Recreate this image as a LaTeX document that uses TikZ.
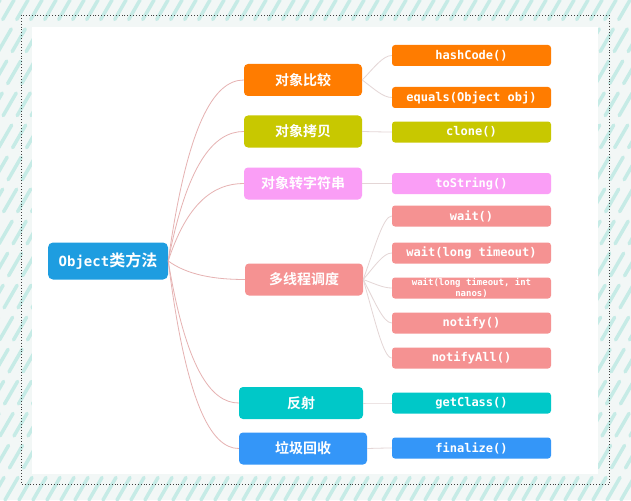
\documentclass[tikz,border=0pt]{standalone}
\usepackage{fontspec}
\setmonofont{DejaVu Sans Mono}
\newfontfamily\cjk{Noto Sans CJK SC}[BoldFont={Noto Sans CJK SC Bold}]
\usetikzlibrary{calc}

\definecolor{rootblue}{RGB}{30,157,224}
\definecolor{cmporange}{RGB}{255,124,0}
\definecolor{copyolive}{RGB}{200,200,0}
\definecolor{strpink}{RGB}{250,158,246}
\definecolor{threadred}{RGB}{245,146,146}
\definecolor{reflteal}{RGB}{0,200,200}
\definecolor{gcblue}{RGB}{52,150,248}
\definecolor{rootline}{RGB}{230,178,178}
\definecolor{leafline}{RGB}{228,214,214}
\definecolor{paper}{RGB}{242,247,246}
\definecolor{brush}{RGB}{198,235,230}

\begin{document}
\begin{tikzpicture}[x=1pt, y=-1pt,
    rootbox/.style={fill=rootblue, text=white, rounded corners=5pt, inner sep=0pt,
      minimum width=120pt, minimum height=37pt},
    topic/.style={text=white, rounded corners=4pt, inner sep=0pt,
      minimum width=118pt, minimum height=32pt,
      font=\cjk\bfseries\fontsize{14}{16}\selectfont},
    leaf/.style={text=white, rounded corners=3pt, inner sep=0pt,
      minimum width=159pt, minimum height=21pt,
      font=\ttfamily\bfseries\fontsize{12}{14}\selectfont},
    rootlink/.style={rootline, line width=0.8pt},
    leaflink/.style={leafline, line width=0.8pt}]
    \useasboundingbox (0,0) rectangle (631,500);

    % Paper with brush stripes
    \begin{scope}
      \clip (0,0) rectangle (631,500);
      \fill[paper] (0,0) rectangle (631,500);
      \foreach \i in {0,14,...,930}
        \draw[brush, line width=3.5pt, line cap=round, dash pattern=on 26pt off 11pt]
          (\i-289,500) -- (\i,0);
    \end{scope}

    % Dotted frame and white panel
    \draw[black!75, dotted, line width=0.9pt] (21,15) rectangle (609,484);
    \fill[white] (32,27) rectangle (598,474);

    % Root
    \node[rootbox] (root) at (108,261)
      {{\ttfamily\bfseries\fontsize{14}{16}\selectfont Object}{\cjk\bfseries\fontsize{16}{18}\selectfont 类方法}};

    % First level
    \node[topic, fill=cmporange] (cmp) at (303,80) {对象比较};
    \node[topic, fill=copyolive] (copy) at (303,131.5) {对象拷贝};
    \node[topic, fill=strpink] (str) at (303,183.5) {对象转字符串};
    \node[topic, fill=threadred] (thread) at (304,279.5) {多线程调度};
    \node[topic, fill=reflteal, minimum width=124pt] (refl) at (301,403) {反射};
    \node[topic, fill=gcblue, minimum width=128pt] (gc) at (303,448.5) {垃圾回收};

    % Second level
    \node[leaf, fill=cmporange] (hash) at (471.5,55.5) {hashCode()};
    \node[leaf, fill=cmporange] (eq) at (471.5,97.5) {equals(Object obj)};
    \node[leaf, fill=copyolive] (clone) at (471.5,132) {clone()};
    \node[leaf, fill=strpink] (tostr) at (471.5,183.5) {toString()};
    \node[leaf, fill=threadred] (wone) at (471.5,216) {wait()};
    \node[leaf, fill=threadred] (wtwo) at (471.5,253) {wait(long timeout)};
    \node[leaf, fill=threadred, align=center,
      font=\ttfamily\bfseries\fontsize{9}{11}\selectfont] (wthree) at (471.5,288)
      {wait(long timeout, int\\nanos)};
    \node[leaf, fill=threadred] (ntf) at (471.5,323) {notify()};
    \node[leaf, fill=threadred] (ntfall) at (471.5,358) {notifyAll()};
    \node[leaf, fill=reflteal] (getcls) at (471.5,403) {getClass()};
    \node[leaf, fill=gcblue] (fin) at (471.5,448) {finalize()};

    % Root links
    \foreach \k in {cmp,copy,str,thread,refl,gc}
      \draw[rootlink] let \p1=(root.east), \p2=(\k.west) in
        (\p1) .. controls (0.75*\x1+0.25*\x2, 0.25*\y1+0.75*\y2)
        and (0.4*\x1+0.6*\x2, \y2) .. (\p2);

    % Leaf links
    \foreach \a/\b in {cmp/hash,cmp/eq,copy/clone,str/tostr,thread/wone,thread/wtwo,
        thread/wthree,thread/ntf,thread/ntfall,refl/getcls,gc/fin}
      \draw[leaflink] let \p1=(\a.east), \p2=(\b.west) in
        (\p1) .. controls (0.6*\x1+0.4*\x2, 0.5*\y1+0.5*\y2)
        and (0.3*\x1+0.7*\x2, \y2) .. (\p2);
\end{tikzpicture}
\end{document}
